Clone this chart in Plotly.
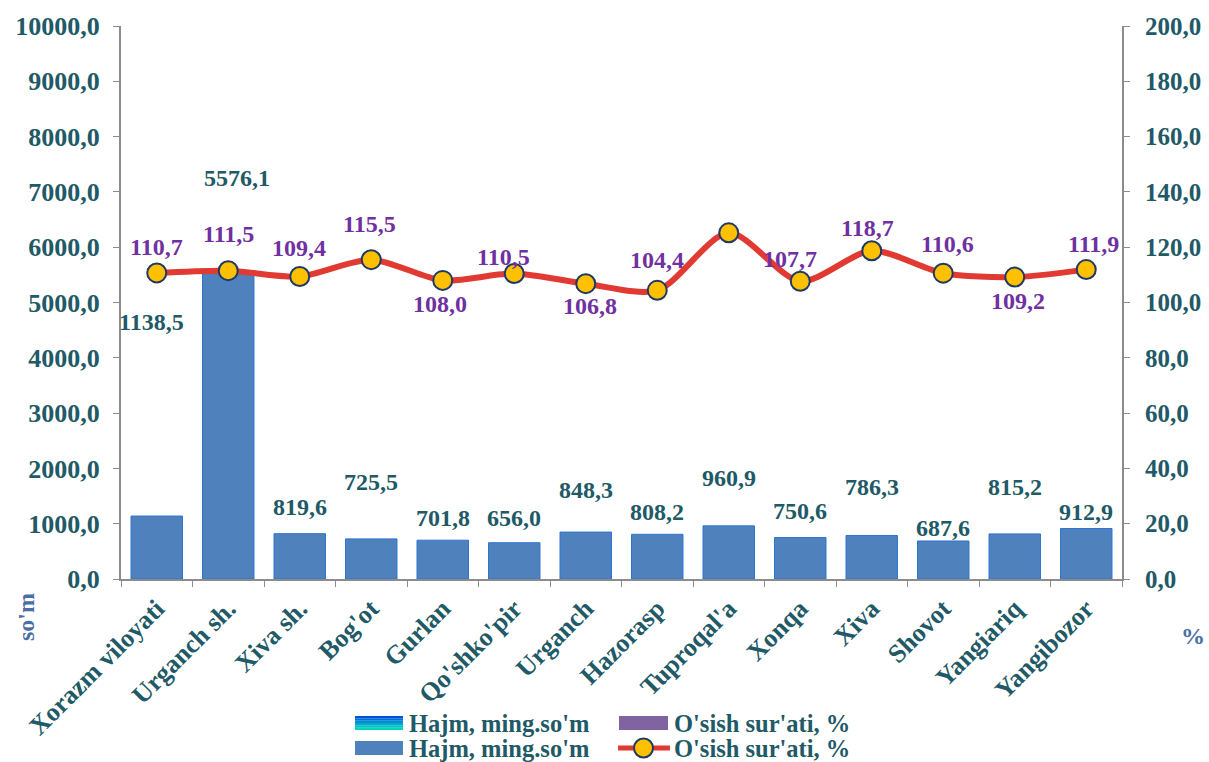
import plotly.graph_objects as go

categories = ["Xorazm viloyati", "Urganch sh.", "Xiva sh.", "Bog'ot", "Gurlan", "Qo'shko'pir",
              "Urganch", "Hazorasp", "Tuproqal'a", "Xonqa", "Xiva", "Shovot", "Yangiariq", "Yangibozor"]
hajm = [1138.5, 5576.1, 819.6, 725.5, 701.8, 656.0, 848.3, 808.2, 960.9, 750.6, 786.3, 687.6, 815.2, 912.9]
osish = [110.7, 111.5, 109.4, 115.5, 108.0, 110.5, 106.8, 104.4, 125.2, 107.7, 118.7, 110.6, 109.2, 111.9]
osish_label_shown = [True] * 8 + [False] + [True] * 5

# label offsets (pixels) as in the reference
bar_lbl_dy = [194, 93, 27, 57, 22, 25, 42, 22, 48, 26, 49, 13, 47, 17]
bar_lbl_dx = [-5, 9, 0, 0, 0, 0, 0, 0, 0, 0, 0, 0, 0, 0]
line_lbl_dy = [26, 37, 29, 36, -24, 16, -22, 30, 0, 22, 23, 29, -24, 26]
line_lbl_dx = [0, 0, -1, -2, -3, -11, 4, 0, 0, -10, -4, 4, 3, 7]

FONT = "Liberation Serif"
TEAL = "#215967"
PURPLE = "#7030A0"
BLUE_T = "#4A6FA5"

def fmt(v):
    return f"{v:.1f}".replace(".", ",")

def bfont(size, color):
    return dict(family=FONT, size=size, color=color, weight="bold")

W, H = 1209, 762
# plot area in page pixels
PL, PR, PT, PB = 121, 1122, 26, 579

def px(x):
    return (x - PL) / (PR - PL)
def py(y):
    return (PB - y) / (PB - PT)

fig = go.Figure()
fig.add_trace(go.Bar(x=categories, y=hajm, name="Hajm, ming.so'm",
                     marker=dict(color="#4F81BD", line=dict(color="#2E75D0", width=1)),
                     showlegend=False))
fig.add_trace(go.Scatter(x=categories, y=osish, yaxis="y2", mode="lines+markers",
                         name="O'sish sur'ati, %",
                         line=dict(color="#E03A33", width=6, shape="spline", smoothing=0.8),
                         marker=dict(size=19, color="#FFC000", line=dict(color="#1F3864", width=2)),
                         showlegend=False))

ann = []
for i, (c, v) in enumerate(zip(categories, hajm)):
    ann.append(dict(x=c, y=v, xref="x", yref="y", text=fmt(v), showarrow=False,
                    xshift=bar_lbl_dx[i], yshift=bar_lbl_dy[i], font=bfont(24, TEAL)))
for i, (c, v) in enumerate(zip(categories, osish)):
    if not osish_label_shown[i]:
        continue
    ann.append(dict(x=c, y=v, xref="x", yref="y2", text=fmt(v), showarrow=False,
                    xshift=line_lbl_dx[i], yshift=line_lbl_dy[i], font=bfont(24, PURPLE)))

ann.append(dict(x=px(26), y=py(617), xref="paper", yref="paper", text="so'm", textangle=-90,
                xanchor="center", yanchor="middle",
                showarrow=False, font=bfont(24, BLUE_T)))
ann.append(dict(x=px(1193), y=py(636), xref="paper", yref="paper", text="%",
                xanchor="center", yanchor="middle",
                showarrow=False, font=bfont(24, BLUE_T)))

shapes = []
# custom legend
grad = ["#0050D8", "#0070D6", "#0090D2", "#00A8CC", "#00C0C6", "#00D4BE"]
r1, r2 = 723, 748
h = 14
for k, col in enumerate(grad):
    y0 = r1 - h / 2 + k * h / len(grad)
    shapes.append(dict(type="rect", xref="paper", yref="paper", x0=px(355), x1=px(403),
                       y0=py(y0 + h / len(grad)), y1=py(y0), fillcolor=col, line=dict(width=0)))
shapes.append(dict(type="rect", xref="paper", yref="paper", x0=px(355), x1=px(403),
                   y0=py(r2 + h / 2), y1=py(r2 - h / 2), fillcolor="#4F81BD", line=dict(width=0)))
shapes.append(dict(type="rect", xref="paper", yref="paper", x0=px(619), x1=px(668),
                   y0=py(r1 + h / 2), y1=py(r1 - h / 2), fillcolor="#8064A2", line=dict(width=0)))
shapes.append(dict(type="line", xref="paper", yref="paper", x0=px(618), x1=px(670),
                   y0=py(r2), y1=py(r2), line=dict(color="#E03A33", width=5)))
shapes.append(dict(type="circle", xref="paper", yref="paper", x0=px(634), x1=px(653),
                   y0=py(r2 + 9.5), y1=py(r2 - 9.5), fillcolor="#FFC000",
                   line=dict(color="#1F3864", width=2)))
for (xx, yy, t) in [(407, r1, "Hajm, ming.so'm"), (407, r2, "Hajm, ming.so'm"),
                    (672, r1, "O'sish sur'ati, %"), (672, r2, "O'sish sur'ati, %")]:
    ann.append(dict(x=px(xx), y=py(yy), xref="paper", yref="paper", text=t, xanchor="left",
                    yanchor="middle", showarrow=False, font=bfont(24.5, TEAL)))

tickfont = bfont(26, TEAL)
axis_common = dict(showgrid=False, showline=True, linecolor="#8C8C8C", linewidth=2,
                   ticks="outside", ticklen=6, tickcolor="#8C8C8C", tickfont=tickfont,
                   zeroline=False, automargin=False)
fig.update_layout(
    width=W, height=H,
    margin=dict(l=PL, r=W - PR, t=PT, b=H - PB, autoexpand=False),
    paper_bgcolor="white", plot_bgcolor="white",
    separators=",.",
    bargap=0.28,
    showlegend=False,
    font=dict(family=FONT),
    xaxis=dict(axis_common, range=[-0.5, len(categories) - 0.5], tickson="boundaries",
               tickangle=-45, ticklabelstandoff=2),
    yaxis=dict(axis_common, range=[0, 10000], dtick=1000, tickformat=".1f",
               ticklabelstandoff=8),
    yaxis2=dict(axis_common, range=[0, 200], dtick=20, tickformat=".1f", overlaying="y",
                side="right", ticklabelstandoff=10, tickfont=bfont(25, TEAL)),
    annotations=ann, shapes=shapes,
)

fig.write_html("out.html", config={"displayModeBar": False},
               post_script="document.body.style.margin='0';document.body.style.overflow='hidden';")
